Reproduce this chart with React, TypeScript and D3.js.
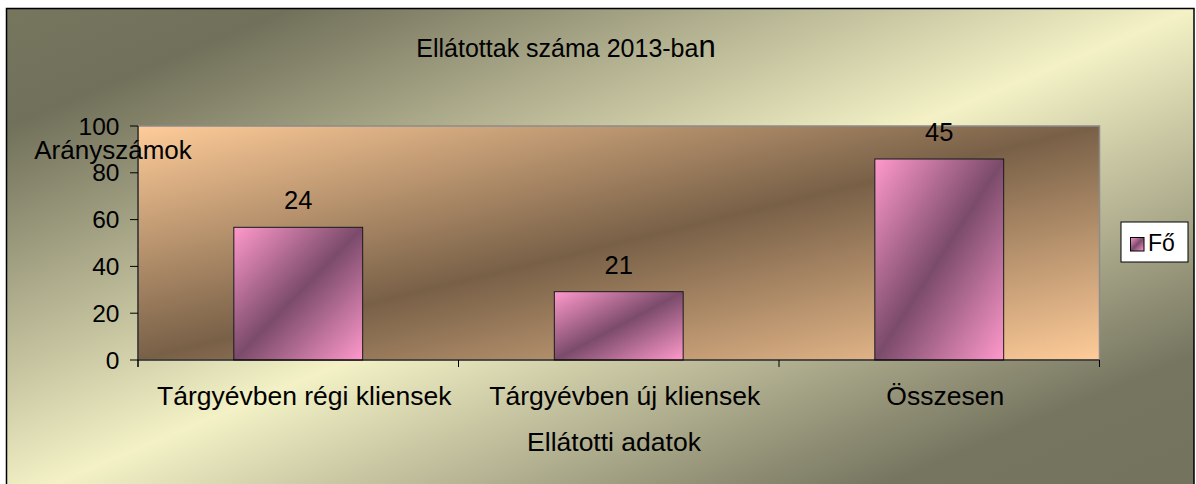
import * as d3 from 'd3';

const TITLE = 'Ellátottak száma 2013-ba';
const TITLE_TAIL = 'n';
const CATEGORIES = ['Tárgyévben régi kliensek', 'Tárgyévben új kliensek', 'Összesen'];
const VALUES = [56.7, 29.2, 85.9];
const LABELS = ['24', '21', '45'];
const Y_TICKS = [0, 20, 40, 60, 80, 100];
const SERIES_NAME = 'Fő';
const Y_TITLE = 'Arányszámok';
const X_TITLE = 'Ellátotti adatok';

const VW = 1196;
const VH = 484;
const PLOT = { left: 138, right: 1099.5, top: 126, bottom: 360 };
const FONT = '"Liberation Sans", Arial, sans-serif';

const xScale = d3.scaleBand<string>()
  .domain(CATEGORIES)
  .range([PLOT.left, PLOT.right])
  .paddingInner(0.598)
  .paddingOuter(0.299);

const yScale = d3.scaleLinear()
  .domain([0, 100])
  .range([PLOT.bottom, PLOT.top]);

const step = xScale.step();
const boundaries = d3.range(CATEGORIES.length + 1).map(i => PLOT.left + i * step);

export default function App() {
  const bw = xScale.bandwidth();
  return (
    <svg width={VW} height={VH} viewBox={`0 0 ${VW} ${VH}`}
      style={{ position: 'absolute', left: 0, top: 0, display: 'block' }} fontFamily={FONT}>
      <defs>
        <linearGradient id="bgGrad" x1="0" y1="0" x2="1" y2="1">
          <stop offset="0" stopColor="#76755e" />
          <stop offset="0.12" stopColor="#71705a" />
          <stop offset="0.5" stopColor="#f3f1c5" />
          <stop offset="0.85" stopColor="#767560" />
          <stop offset="1" stopColor="#73725c" />
        </linearGradient>
        <linearGradient id="plotGrad" x1="0" y1="0" x2="1" y2="1">
          <stop offset="0" stopColor="#ffcc99" />
          <stop offset="0.5" stopColor="#786047" />
          <stop offset="1" stopColor="#ffcc99" />
        </linearGradient>
        <linearGradient id="barGrad" x1="0" y1="0" x2="1" y2="1">
          <stop offset="0" stopColor="#ff99cc" />
          <stop offset="0.5" stopColor="#7b4b6b" />
          <stop offset="1" stopColor="#ff99cc" />
        </linearGradient>
      </defs>

      <rect x={6.5} y={8.5} width={1187.5} height={495} fill="url(#bgGrad)" stroke="#000" strokeWidth={1.5} />

      <text x={566} y={56.7} textAnchor="middle" fontSize={25} fill="#000">
        {TITLE}<tspan fontSize={31}>{TITLE_TAIL}</tspan>
      </text>

      <rect x={PLOT.left} y={PLOT.top} width={PLOT.right - PLOT.left} height={PLOT.bottom - PLOT.top}
        fill="url(#plotGrad)" stroke="#8c8c8c" strokeWidth={1.5} />

      {CATEGORIES.map((c, i) => (
        <g key={c}>
          <rect x={xScale(c)!} y={yScale(VALUES[i])} width={bw} height={yScale(0) - yScale(VALUES[i])}
            fill="url(#barGrad)" stroke="#1a1a1a" strokeWidth={1} />
          <text x={xScale(c)! + bw / 2} y={yScale(VALUES[i]) - 18} textAnchor="middle" fontSize={25.5} fill="#000">
            {LABELS[i]}
          </text>
          <text x={xScale(c)! + bw / 2 + 6} y={PLOT.bottom + 45} textAnchor="middle" fontSize={26.5} fill="#000">
            {c}
          </text>
        </g>
      ))}

      <line x1={PLOT.left} y1={PLOT.top} x2={PLOT.left} y2={PLOT.bottom + 7} stroke="#000" strokeWidth={1} />
      <line x1={PLOT.left} y1={PLOT.bottom} x2={PLOT.right} y2={PLOT.bottom} stroke="#000" strokeWidth={1.2} />

      {Y_TICKS.map(t => (
        <g key={t}>
          <line x1={PLOT.left - 8} y1={yScale(t)} x2={PLOT.left} y2={yScale(t)} stroke="#000" />
          <text x={119.5} y={yScale(t)} dy="0.35em" textAnchor="end" fontSize={24.5} fill="#000">{t}</text>
        </g>
      ))}

      {boundaries.map((b, i) => (
        <line key={i} x1={b} y1={PLOT.bottom} x2={b} y2={PLOT.bottom + 7} stroke="#000" />
      ))}

      <text x={113} y={159.3} textAnchor="middle" fontSize={26} fill="#000">{Y_TITLE}</text>
      <text x={614} y={451} textAnchor="middle" fontSize={26.5} fill="#000">{X_TITLE}</text>

      <g>
        <rect x={1121} y={222} width={67} height={40} fill="#fff" stroke="#000" strokeWidth={1} />
        <rect x={1130.5} y={237.5} width={13.5} height={13.5} fill="url(#barGrad)" stroke="#000" strokeWidth={1} />
        <text x={1148} y={250.5} fontSize={23} fill="#000">{SERIES_NAME}</text>
      </g>
    </svg>
  );
}
